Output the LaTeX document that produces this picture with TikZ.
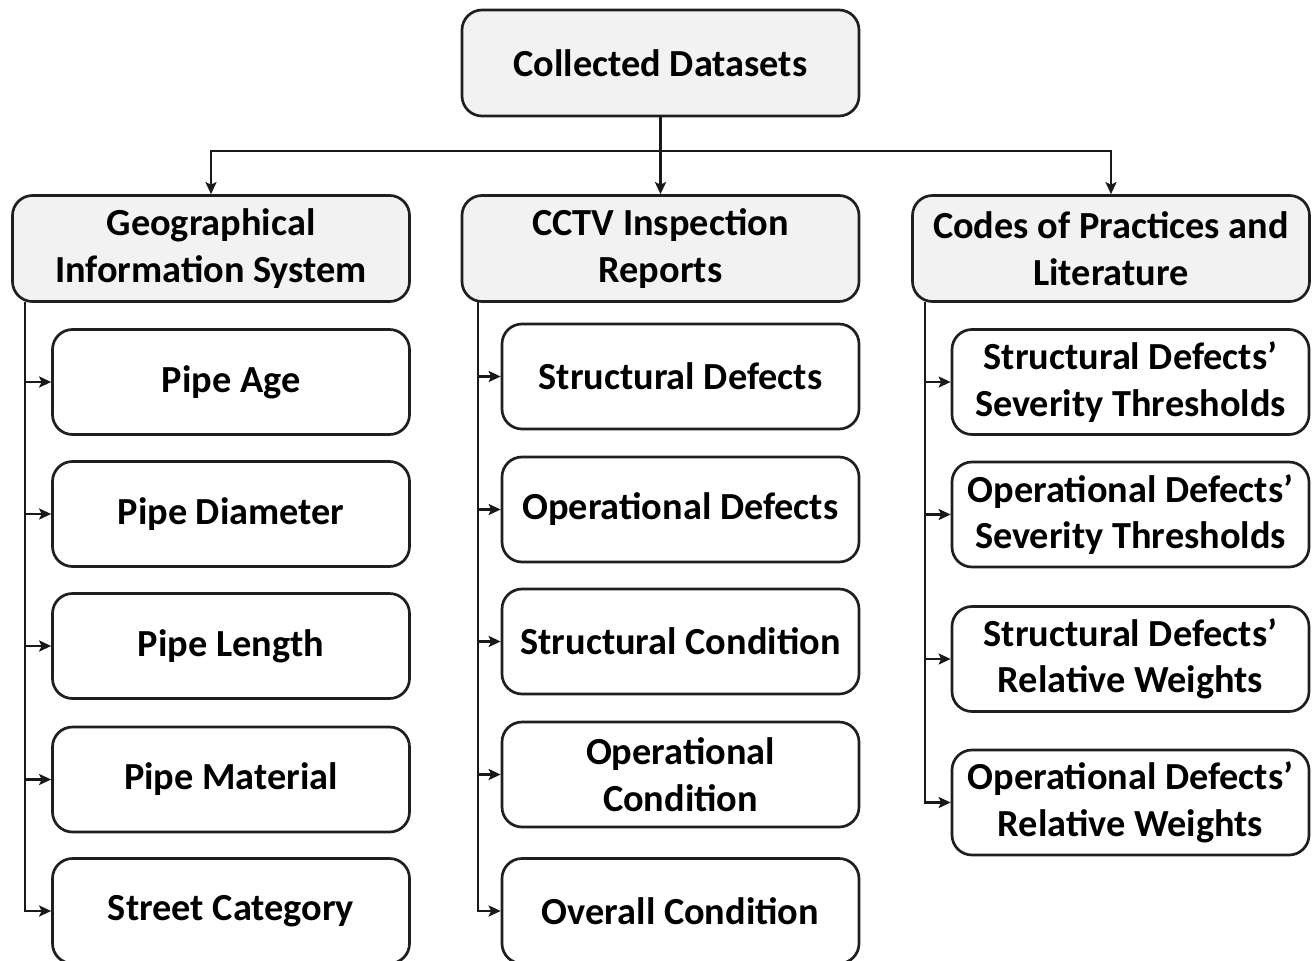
\documentclass[tikz,border=0pt]{standalone}
\usepackage{fontspec}
\setmainfont{Carlito}
\usetikzlibrary{arrows.meta}
\begin{document}
\begin{tikzpicture}[x=1pt,y=-1pt,
  box/.style={draw=black!88, line width=2.7pt, rounded corners=20pt, align=center,
    font=\fontsize{38.3}{46.5}\selectfont\bfseries, inner sep=0pt},
  head/.style={box, fill=black!5, minimum width=397pt, minimum height=106pt},
  leaf/.style={box, fill=white, minimum width=357pt, minimum height=105pt},
  arr/.style={draw=black!90, line width=2.5pt, -{Stealth[length=12pt,width=11pt,inset=2.5pt]}}]
\useasboundingbox (0,0) rectangle (1312,961);

% top level
\node[head] (top) at (660.5,63) {Collected Datasets};

% second level
\node[head] (gis)  at (211,248.5)    {Geographical\\Information System};
\node[head] (cctv) at (660.5,248.5)  {CCTV Inspection\\Reports};
\node[head] (code) at (1111,248.5)   {Codes of Practices and\\Literature};

% GIS attributes
\node[leaf] (age)  at (231,382)   {Pipe Age};
\node[leaf] (diam) at (231,514)   {Pipe Diameter};
\node[leaf] (len)  at (231,646)   {Pipe Length};
\node[leaf] (mat)  at (231,779.5) {Pipe Material};
\node[leaf] (str)  at (231,911)   {Street Category};

% CCTV outputs
\node[leaf] (sdef) at (680.5,376.5) {Structural Defects};
\node[leaf] (odef) at (680.5,509.5) {Operational Defects};
\node[leaf] (scon) at (680.5,641.5) {Structural Condition};
\node[leaf] (ocon) at (680.5,774.5) {Operational\\Condition};
\node[leaf] (ovr)  at (680.5,911)   {Overall Condition};

% codes of practice outputs
\node[leaf] (ssev) at (1130.5,382)   {Structural Defects’\\Severity Thresholds};
\node[leaf] (osev) at (1130.5,514.5) {Operational Defects’\\Severity Thresholds};
\node[leaf] (swt)  at (1130.5,659)   {Structural Defects’\\Relative Weights};
\node[leaf] (owt)  at (1130.5,802.5) {Operational Defects’\\Relative Weights};

% distribution bus
\coordinate (bus) at (660.5,151);
\draw[arr] (top.south) -- (cctv.north);
\draw[arr] (bus) -| (gis.north);
\draw[arr] (bus) -| (code.north);

% spines under each group
\coordinate (gsp) at (25,302);
\coordinate (csp) at (478,302);
\coordinate (psp) at (925,302);

\foreach \c in {age,diam,len,mat,str} \draw[arr] (gsp) |- (\c.west);
\foreach \c in {sdef,odef,scon,ocon,ovr} \draw[arr] (csp) |- (\c.west);
\foreach \c in {ssev,osev,swt,owt} \draw[arr] (psp) |- (\c.west);
\end{tikzpicture}
\end{document}
